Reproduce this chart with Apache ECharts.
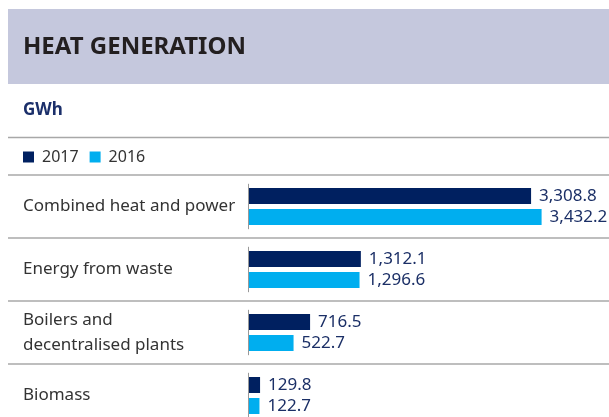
<!DOCTYPE html>
<html>
<head>
<meta charset="utf-8">
<title>Heat generation</title>
<script src="https://cdn.jsdelivr.net/npm/echarts@6/dist/echarts.min.js"></script>
<style>
  html, body { margin: 0; padding: 0; background: #fff; }
  #chart { width: 609px; height: 417px; }
</style>
</head>
<body>
<div id="chart"></div>
<script>
  // data (GWh)
  const categories = ['Combined heat and power', 'Energy from waste', 'Boilers and\ndecentralised plants', 'Biomass'];
  const years = ['2017', '2016'];
  const values2017 = [3308.8, 1312.1, 716.5, 129.8];
  const values2016 = [3432.2, 1296.6, 522.7, 122.7];

  const navy = '#002060';
  const cyan = '#00aeef';
  const font = 'Noto Sans';

  const chart = echarts.init(document.getElementById('chart'));

  function fmt(v) {
    return v.toLocaleString('en-US', { minimumFractionDigits: 1, maximumFractionDigits: 1 });
  }

  function barSeries(name, data, color) {
    return {
      name: name,
      type: 'bar',
      data: data,
      barWidth: 16,
      barGap: '31%',
      itemStyle: { color: color },
      label: {
        show: true,
        position: 'right',
        distance: 8,
        color: '#1b2f66',
        fontSize: 17,
        fontFamily: font,
        formatter: p => fmt(p.value)
      }
    };
  }

  chart.setOption({
    animation: false,
    textStyle: { fontFamily: font },
    graphic: [
      {
        type: 'rect',
        shape: { x: 8, y: 9, width: 601, height: 75 },
        style: { fill: '#c5c8dd' }
      },
      {
        type: 'text',
        x: 23, y: 47,
        style: {
          text: 'HEAT GENERATION',
          fill: '#231f20',
          font: 'bold 24px "Noto Sans"',
          verticalAlign: 'middle'
        }
      },
      {
        type: 'text',
        x: 23, y: 110,
        style: {
          text: 'GWh',
          fill: '#1b2f6a',
          font: 'bold 17px "Noto Sans"',
          verticalAlign: 'middle'
        }
      },
      {
        type: 'line',
        shape: { x1: 8, y1: 137.5, x2: 609, y2: 137.5 },
        style: { stroke: '#a8a8a8', lineWidth: 1.5 }
      }
    ],
    legend: {
      data: years,
      left: 23,
      top: 149,
      padding: 0,
      icon: 'rect',
      itemWidth: 11,
      itemHeight: 11,
      itemGap: 11,
      textStyle: { fontSize: 16, color: '#333', fontFamily: font, padding: [0, 0, 0, 3] }
    },
    grid: [
      { left: 249, top: 175, width: 341, height: 252, outerBoundsMode: 'none' },
      { left: 8, top: 175, right: 0, height: 252, outerBoundsMode: 'none' }
    ],
    xAxis: [
      { type: 'value', gridIndex: 0, min: 0, max: 4000, show: false },
      { type: 'value', gridIndex: 1, min: 0, max: 1, show: false }
    ],
    yAxis: [
      {
        type: 'category',
        gridIndex: 0,
        data: categories,
        inverse: true,
        axisLine: { show: false },
        axisTick: { show: false },
        splitLine: { show: false },
        axisLabel: {
          align: 'left',
          margin: 226,
          fontSize: 17,
          lineHeight: 25,
          color: '#333',
          fontFamily: font
        }
      },
      {
        type: 'category',
        gridIndex: 1,
        data: categories,
        inverse: true,
        axisLine: { show: false },
        axisTick: { show: false },
        axisLabel: { show: false },
        splitLine: { show: true, lineStyle: { color: '#a8a8a8', width: 1.5 } }
      }
    ],
    series: [
      barSeries(years[0], values2017, navy),
      barSeries(years[1], values2016, cyan),
      {
        // short vertical axis piece per category
        type: 'custom',
        data: categories.map(c => [0, c]),
        silent: true,
        renderItem: (params, api) => {
          const p = api.coord([api.value(0), api.value(1)]);
          const h = api.size([0, 1])[1] * 0.72;
          return {
            type: 'line',
            shape: { x1: p[0] - 0.5, y1: p[1] - h / 2, x2: p[0] - 0.5, y2: p[1] + h / 2 },
            style: { stroke: '#999', lineWidth: 1 }
          };
        }
      }
    ]
  });
</script>
</body>
</html>
